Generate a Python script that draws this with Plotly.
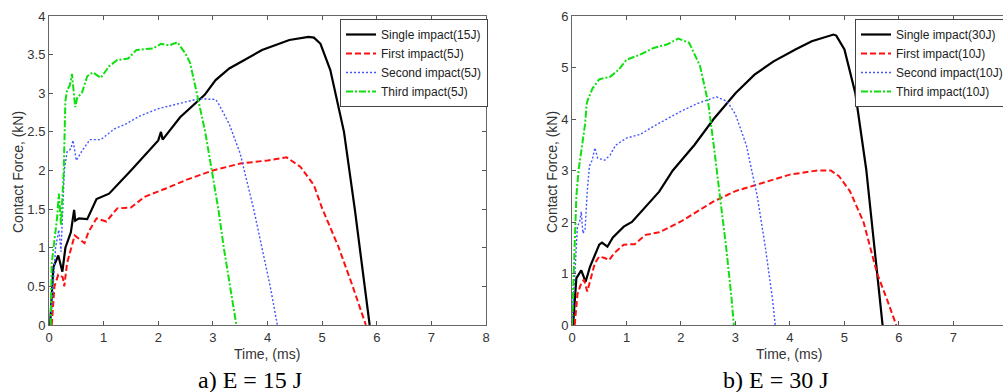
import plotly.graph_objects as go

# ---------------- Data: (a) E = 15 J ----------------
a_single_t = [0.0, 0.02, 0.08, 0.17, 0.245, 0.30, 0.40, 0.46, 0.48, 0.55, 0.70, 0.78, 0.87, 1.1, 1.5, 2.0, 2.05, 2.08, 2.4, 2.85, 3.05, 3.3, 3.9, 4.4, 4.75, 4.85, 4.97, 5.15, 5.4, 5.6, 5.78, 5.87]
a_single_f = [0.0, 0.0, 0.75, 0.90, 0.69, 1.00, 1.20, 1.49, 1.35, 1.38, 1.37, 1.50, 1.63, 1.70, 2.00, 2.39, 2.50, 2.40, 2.69, 2.98, 3.17, 3.32, 3.56, 3.69, 3.73, 3.72, 3.64, 3.30, 2.50, 1.49, 0.50, 0.0]

a_first_t = [0.05, 0.10, 0.17, 0.25, 0.28, 0.33, 0.47, 0.65, 0.72, 0.87, 1.05, 1.25, 1.5, 1.75, 2.15, 2.5, 3.0, 3.5, 4.0, 4.35, 4.6, 4.85, 5.0, 5.3, 5.55, 5.8]
a_first_f = [0.0, 0.50, 0.65, 0.62, 0.50, 0.80, 1.16, 1.06, 1.20, 1.38, 1.34, 1.51, 1.52, 1.66, 1.77, 1.875, 2.00, 2.09, 2.13, 2.17, 2.05, 1.81, 1.51, 1.01, 0.52, 0.0]

a_second_t = [0.03, 0.12, 0.18, 0.22, 0.28, 0.33, 0.40, 0.44, 0.50, 0.60, 0.75, 0.95, 1.2, 1.4, 1.65, 2.0, 2.4, 2.75, 3.05, 3.1, 3.3, 3.5, 3.75, 3.9, 4.05, 4.18]
a_second_f = [0.0, 1.00, 1.23, 0.95, 2.00, 2.24, 2.28, 2.39, 2.13, 2.25, 2.40, 2.40, 2.54, 2.60, 2.70, 2.80, 2.87, 2.93, 2.92, 2.87, 2.60, 2.22, 1.49, 1.00, 0.50, 0.0]

a_third_t = [0.03, 0.05, 0.15, 0.18, 0.22, 0.27, 0.30, 0.33, 0.38, 0.42, 0.48, 0.52, 0.60, 0.70, 0.80, 0.95, 1.1, 1.25, 1.45, 1.6, 1.9, 2.05, 2.2, 2.35, 2.5, 2.58, 2.7, 2.86, 2.98, 3.1, 3.2, 3.32, 3.43]
a_third_f = [0.0, 0.80, 1.40, 1.70, 1.30, 2.00, 2.90, 3.04, 3.10, 3.25, 2.82, 2.95, 3.00, 3.22, 3.27, 3.20, 3.35, 3.43, 3.45, 3.56, 3.58, 3.64, 3.62, 3.66, 3.51, 3.40, 3.02, 2.50, 2.00, 1.50, 1.00, 0.50, 0.0]

# ---------------- Data: (b) E = 30 J ----------------
b_single_t = [0.02, 0.08, 0.17, 0.25, 0.33, 0.40, 0.50, 0.55, 0.65, 0.75, 0.95, 1.1, 1.35, 1.6, 1.85, 2.25, 2.6, 3.0, 3.35, 3.7, 4.1, 4.4, 4.8, 4.85, 5.0, 5.2, 5.4, 5.55, 5.7]
b_single_f = [0.0, 0.91, 1.06, 0.84, 1.13, 1.30, 1.56, 1.60, 1.52, 1.70, 1.91, 2.00, 2.30, 2.59, 3.00, 3.50, 4.00, 4.50, 4.86, 5.12, 5.35, 5.51, 5.64, 5.62, 5.35, 4.50, 3.02, 1.50, 0.0]

b_first_t = [0.05, 0.10, 0.17, 0.22, 0.28, 0.35, 0.42, 0.50, 0.60, 0.68, 0.78, 0.95, 1.15, 1.35, 1.6, 2.0, 2.3, 2.6, 3.0, 3.5, 4.0, 4.5, 4.75, 4.9, 5.1, 5.35, 5.6, 5.78, 5.95]
b_first_f = [0.0, 0.60, 0.81, 0.88, 0.65, 0.90, 1.20, 1.33, 1.30, 1.26, 1.40, 1.56, 1.57, 1.75, 1.80, 2.01, 2.20, 2.40, 2.60, 2.76, 2.92, 3.00, 3.00, 2.89, 2.60, 2.00, 1.00, 0.50, 0.0]

b_second_t = [0.0, 0.05, 0.10, 0.14, 0.17, 0.20, 0.24, 0.28, 0.32, 0.37, 0.42, 0.47, 0.60, 0.70, 0.80, 1.0, 1.25, 1.5, 1.75, 2.0, 2.3, 2.5, 2.65, 2.85, 3.0, 3.2, 3.4, 3.55, 3.68, 3.73]
b_second_f = [0.0, 1.00, 1.91, 2.00, 2.20, 1.78, 1.85, 2.60, 3.09, 3.20, 3.44, 3.24, 3.20, 3.30, 3.49, 3.63, 3.70, 3.86, 4.00, 4.15, 4.30, 4.38, 4.43, 4.34, 4.09, 3.49, 2.50, 1.50, 0.50, 0.0]

b_third_t = [0.0, 0.04, 0.08, 0.12, 0.17, 0.20, 0.24, 0.27, 0.30, 0.38, 0.50, 0.70, 0.85, 1.0, 1.25, 1.5, 1.75, 1.95, 2.15, 2.35, 2.5, 2.6, 2.72, 2.83, 2.93, 2.97]
b_third_f = [0.0, 1.50, 2.50, 3.00, 3.40, 3.60, 3.90, 4.30, 4.40, 4.60, 4.77, 4.82, 4.95, 5.15, 5.25, 5.38, 5.45, 5.56, 5.48, 5.03, 4.31, 3.50, 2.50, 1.50, 0.50, 0.0]

names_a = ["Single impact(15J)", "First impact(5J)", "Second impact(5J)", "Third impact(5J)"]
names_b = ["Single impact(30J)", "First impact(10J)", "Second impact(10J)", "Third impact(10J)"]

styles = [
    dict(color="#000000", width=2.2, dash="solid"),
    dict(color="#ff1010", width=2.0, dash="6px,3px"),
    dict(color="#4455ff", width=1.4, dash="2px,2px"),
    dict(color="#10e010", width=2.0, dash="7px,2px,2px,2px"),
]

fig = go.Figure()
series_a = [(a_single_t, a_single_f), (a_first_t, a_first_f), (a_second_t, a_second_f), (a_third_t, a_third_f)]
series_b = [(b_single_t, b_single_f), (b_first_t, b_first_f), (b_second_t, b_second_f), (b_third_t, b_third_f)]

for (t, f), nm, st in zip(series_a, names_a, styles):
    fig.add_trace(go.Scatter(x=t, y=f, mode="lines", name=nm, line=st, xaxis="x", yaxis="y", legend="legend"))
for (t, f), nm, st in zip(series_b, names_b, styles):
    fig.add_trace(go.Scatter(x=t, y=f, mode="lines", name=nm, line=st, xaxis="x2", yaxis="y2", legend="legend2"))

W, H = 1003, 392
axis_common = dict(
    showgrid=False, zeroline=False, showline=True, linecolor="#666666", linewidth=1,
    ticks="inside", ticklen=4, tickcolor="#555555", tickwidth=1,
    tickfont=dict(family="Liberation Sans, Arial", size=13, color="#333333"),
)

plot_top = 16
plot_bot = 325
ydom = [(H - plot_bot) / H, (H - plot_top) / H]

leg_font = dict(family="Liberation Sans, Arial", size=12, color="#222222")
fig.update_layout(
    width=W, height=H,
    margin=dict(l=0, r=0, t=0, b=0, autoexpand=False),
    paper_bgcolor="white", plot_bgcolor="white",
    xaxis=dict(domain=[49 / W, 486 / W], range=[0, 8], dtick=1, mirror="allticks", anchor="y", **axis_common),
    yaxis=dict(domain=ydom, range=[0, 4], dtick=0.5, mirror="allticks", anchor="x", **axis_common),
    xaxis2=dict(domain=[572 / W, 1.0], range=[0, 7.91], dtick=1, mirror="ticks", anchor="y2", **axis_common),
    yaxis2=dict(domain=ydom, range=[0, 6], dtick=1, mirror=False, anchor="x2", **axis_common),
    legend=dict(x=340 / W, y=(H - 19) / H, xanchor="left", yanchor="top",
                bgcolor="white", bordercolor="#444444", borderwidth=1,
                font=leg_font, itemwidth=30, tracegroupgap=0),
    legend2=dict(x=855 / W, y=(H - 19) / H, xanchor="left", yanchor="top",
                 bgcolor="white", bordercolor="#444444", borderwidth=1,
                 font=leg_font, itemwidth=30, tracegroupgap=0),
    showlegend=True,
)

ann_font = dict(family="Liberation Sans, Arial", size=14, color="#333333")
fig.add_annotation(text="Contact Force, (kN)", x=18 / W, y=(H - 172) / H, xref="paper", yref="paper",
                   showarrow=False, textangle=-90, font=ann_font, xanchor="center", yanchor="middle")
fig.add_annotation(text="Contact Force, (kN)", x=552 / W, y=(H - 172) / H, xref="paper", yref="paper",
                   showarrow=False, textangle=-90, font=ann_font, xanchor="center", yanchor="middle")
fig.add_annotation(text="Time, (ms)", x=267 / W, y=(H - 354) / H, xref="paper", yref="paper",
                   showarrow=False, font=ann_font, xanchor="center", yanchor="middle")
fig.add_annotation(text="Time, (ms)", x=789 / W, y=(H - 354) / H, xref="paper", yref="paper",
                   showarrow=False, font=ann_font, xanchor="center", yanchor="middle")

cap_font = dict(family="Liberation Serif, Times New Roman", size=24, color="#000000")
fig.add_annotation(text="a) E = 15 J", x=250 / W, y=(H - 380) / H, xref="paper", yref="paper",
                   showarrow=False, font=cap_font, xanchor="center", yanchor="middle")
fig.add_annotation(text="b) E = 30 J", x=776 / W, y=(H - 380) / H, xref="paper", yref="paper",
                   showarrow=False, font=cap_font, xanchor="center", yanchor="middle")

fig.write_html("out.html")
